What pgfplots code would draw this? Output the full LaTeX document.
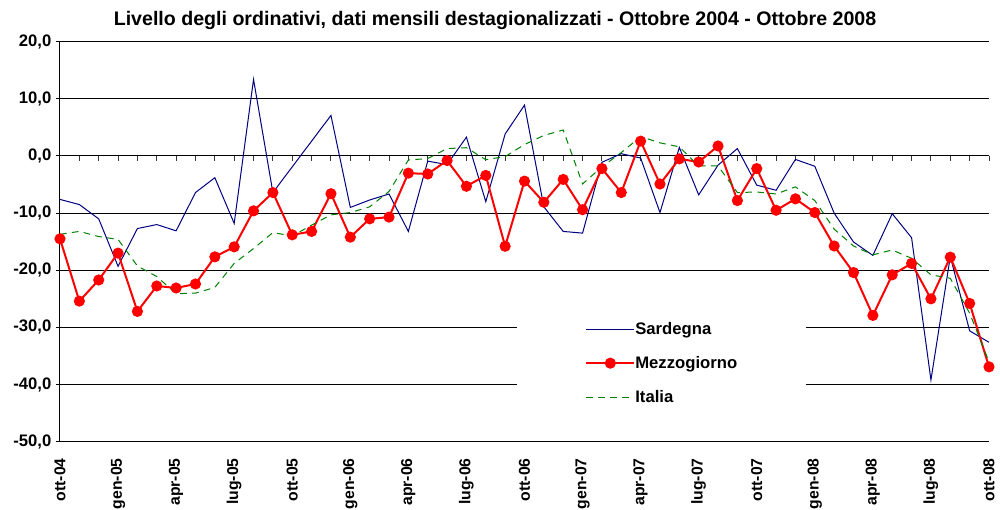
\documentclass[border=0pt]{standalone}
\usepackage{pgfplots}
\pgfplotsset{compat=1.18}
\usepackage{fontspec}
\setmainfont{Liberation Sans}
\definecolor{sard}{RGB}{0,0,128}
\definecolor{ital}{RGB}{0,128,0}
\newcommand{\ff}{\bfseries\fontsize{12.5}{14}\selectfont}
\newcommand{\fx}{\bfseries\fontsize{11.8}{14}\selectfont}
\begin{document}
\begin{tikzpicture}
\useasboundingbox (-45pt,-51.225pt) rectangle (705pt,331.275pt);
\begin{axis}[
  scale only axis,
  width=696.75pt, height=300pt,
  xmin=0, xmax=48, ymin=-50, ymax=20,
  axis y line*=left,
  axis x line*=bottom,
  x axis line style={draw=none},
  y axis line style={line width=0.75pt, black},
  ytick={-50,-40,...,20},
  ymajorgrids,
  grid style={line width=0.75pt, black},
  xtick={0,3,...,48},
  xticklabels={ott-04,gen-05,apr-05,lug-05,ott-05,gen-06,apr-06,lug-06,ott-06,gen-07,apr-07,lug-07,ott-07,gen-08,apr-08,lug-08,ott-08},
  x tick style={draw=none},
  y tick style={line width=0.75pt, black},
  major tick length=3pt,
  tick align=outside,
  yticklabel style={font=\ff},
  xticklabel style={font=\fx, rotate=90, anchor=east, yshift=0pt, xshift=-6pt},
  /pgf/number format/.cd, fixed, fixed zerofill, precision=1, use comma, assume math mode=true,
  /pgfplots/.cd,
  legend style={at={(axis cs:27.13,-29.05)}, anchor=north west, draw=none, fill=none,
    font=\ff, inner sep=0pt, row sep=14.85pt,
    nodes={inner sep=0pt, anchor=west},
    /tikz/every even column/.append style={column sep=2.5pt}},
  legend cell align=left,
  legend image code/.code={\draw[#1] (0pt,0pt) -- (18pt,0pt) (18pt,0pt) -- (36pt,0pt); \draw[#1,only marks] plot coordinates {(18pt,0pt)};},
  clip=false,
]
\fill[white] (axis cs:23.6,-26.1) rectangle (axis cs:38.55,-45.3);
\pgfplotsinvokeforeach{1,...,48}{\draw[line width=0.75pt, black!80] (axis cs:#1,0) -- ([yshift=-3.75pt]axis cs:#1,0);}
\addplot[sard, line width=0.75pt] coordinates {
(0,-7.6) (1,-8.5) (2,-11.0) (3,-19.3) (4,-12.7) (5,-12.0) (6,-13.1) (7,-6.4) (8,-3.8) (9,-11.8)
(10,13.4) (11,-6.4) (12,-1.9) (13,2.6) (14,7.1) (15,-9.0) (16,-7.7) (17,-6.65) (18,-13.2) (19,-0.9)
(20,-1.5) (21,3.3) (22,-8.0) (23,3.85) (24,8.9) (25,-8.9) (26,-13.2) (27,-13.5) (28,-1.1) (29,0.4)
(30,-0.35) (31,-9.9) (32,1.5) (33,-6.8) (34,-1.6) (35,1.3) (36,-5.1) (37,-6.0) (38,-0.6) (39,-1.8)
(40,-10.0) (41,-15.05) (42,-17.4) (43,-10.1) (44,-14.3) (45,-39.2) (46,-17.6) (47,-30.6) (48,-32.6)};
\addlegendentry{Sardegna}
\addplot[red, line width=1.5pt, mark=*, mark size=3.4pt, mark options={solid, fill=red}] coordinates {
(0,-14.5) (1,-25.4) (2,-21.7) (3,-17.0) (4,-27.2) (5,-22.75) (6,-23.1) (7,-22.4) (8,-17.65) (9,-15.9)
(10,-9.6) (11,-6.4) (12,-13.8) (13,-13.2) (14,-6.6) (15,-14.2) (16,-11.0) (17,-10.7) (18,-3.0) (19,-3.15)
(20,-0.8) (21,-5.3) (22,-3.4) (23,-15.8) (24,-4.4) (25,-8.1) (26,-4.1) (27,-9.4) (28,-2.2) (29,-6.4)
(30,2.6) (31,-4.9) (32,-0.5) (33,-1.05) (34,1.75) (35,-7.8) (36,-2.2) (37,-9.5) (38,-7.5) (39,-9.9)
(40,-15.75) (41,-20.4) (42,-27.9) (43,-20.8) (44,-18.8) (45,-25.0) (46,-17.7) (47,-25.8) (48,-36.9)};
\addlegendentry{Mezzogiorno}
\addplot[ital, line width=0.75pt, dash pattern=on 5pt off 4pt] coordinates {
(0,-13.7) (1,-13.2) (2,-14.1) (3,-14.6) (4,-19.25) (5,-21.1) (6,-24.1) (7,-24.0) (8,-23.0) (9,-18.8)
(10,-16.2) (11,-13.4) (12,-14.0) (13,-12.1) (14,-10.3) (15,-9.9) (16,-8.9) (17,-6.2) (18,-0.7) (19,-0.45)
(20,1.3) (21,1.45) (22,-0.65) (23,-0.1) (24,2.0) (25,3.6) (26,4.55) (27,-4.9) (28,-1.9) (29,0.6)
(30,3.4) (31,2.3) (32,1.6) (33,-1.75) (34,-1.75) (35,-6.4) (36,-6.3) (37,-6.65) (38,-5.4) (39,-7.8)
(40,-12.8) (41,-15.75) (42,-17.3) (43,-16.45) (44,-17.9) (45,-20.8) (46,-21.4) (47,-27.5) (48,-36.0)};
\addlegendentry{Italia}
\end{axis}
\node[anchor=base, font=\bfseries\fontsize{14.7}{17}\selectfont] at (326.25pt,311.8pt) {Livello degli ordinativi, dati mensili destagionalizzati - Ottobre 2004 - Ottobre 2008};
\end{tikzpicture}
\end{document}
